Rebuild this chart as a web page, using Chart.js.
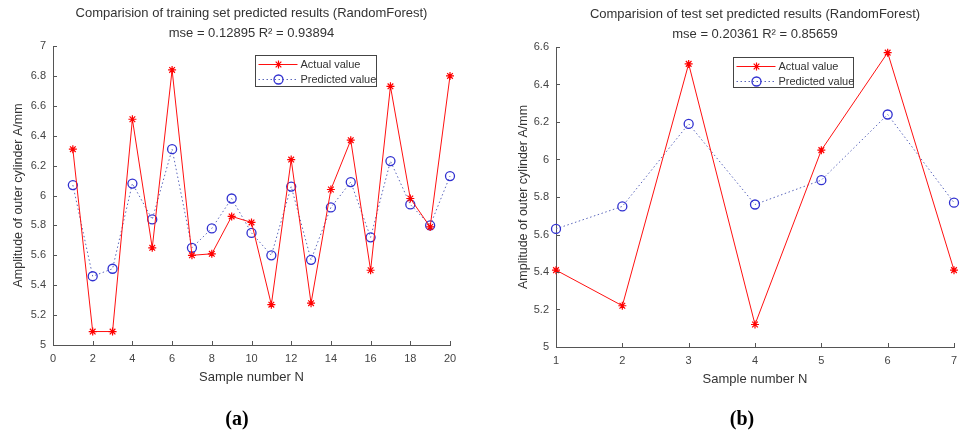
<!DOCTYPE html>
<html lang="en">

<head>
    <meta charset="UTF-8">
    <title>RandomForest prediction comparison</title>
    <script src="https://cdn.jsdelivr.net/npm/chart.js"></script>
    <style>
        body { margin: 0; background: #fff; width: 971px; height: 436px; position: relative; overflow: hidden; }
        canvas { position: absolute; top: 0; }
        .tag { position: absolute; font: bold 20px "Liberation Serif", "Times New Roman", serif; color: #000; transform: translate(-50%, -50%); }
    </style>
</head>

<body>
    <canvas id="trainChart" width="485" height="436" style="left:0"></canvas>
    <canvas id="testChart" width="486" height="436" style="left:485px"></canvas>
    <div class="tag" style="left:237px; top:418px">(a)</div>
    <div class="tag" style="left:742px; top:418px">(b)</div>

    <script>
        // training set (a)
        const trainSamples = [1, 2, 3, 4, 5, 6, 7, 8, 9, 10, 11, 12, 13, 14, 15, 16, 17, 18, 19, 20];
        const trainActual = [6.31, 5.09, 5.09, 6.51, 5.65, 6.84, 5.60, 5.61, 5.86, 5.82, 5.27, 6.24, 5.28, 6.04, 6.37, 5.50, 6.73, 5.98, 5.79, 6.80];
        const trainPredicted = [6.07, 5.46, 5.51, 6.08, 5.84, 6.31, 5.65, 5.78, 5.98, 5.75, 5.60, 6.06, 5.57, 5.92, 6.09, 5.72, 6.23, 5.94, 5.80, 6.13];

        // test set (b)
        const testSamples = [1, 2, 3, 4, 5, 6, 7];
        const testActual = [5.41, 5.22, 6.51, 5.12, 6.05, 6.57, 5.41];
        const testPredicted = [5.63, 5.75, 6.19, 5.76, 5.89, 6.24, 5.77];

        const trainTitle = ['Comparision of training set predicted results (RandomForest)', 'mse = 0.12895 R\u00B2 = 0.93894'];
        const testTitle = ['Comparision of test set predicted results (RandomForest)', 'mse = 0.20361 R\u00B2 = 0.85659'];
        const seriesNames = ['Actual value', 'Predicted value'];

        const FONT = '"Liberation Sans", Arial, sans-serif';
        const TEXT = '#333';
        const AXIS = '#555';

        const toPoints = (xs, ys) => xs.map((x, i) => ({ x: x, y: ys[i] }));

        // matlab style ticks pointing into the plot + legend box inside the axes
        const matlabBits = {
            id: 'matlabBits',
            afterDraw(chart, args, opts) {
                const ctx = chart.ctx;
                const area = chart.chartArea;
                const xs = chart.scales.x, ys = chart.scales.y;
                ctx.save();
                ctx.strokeStyle = AXIS;
                ctx.lineWidth = 1;
                ctx.beginPath();
                xs.ticks.forEach(t => {
                    const px = Math.round(xs.getPixelForValue(t.value)) + 0.5;
                    ctx.moveTo(px, area.bottom);
                    ctx.lineTo(px, area.bottom - 4);
                });
                ys.ticks.forEach(t => {
                    const py = Math.round(ys.getPixelForValue(t.value)) + 0.5;
                    ctx.moveTo(area.left, py);
                    ctx.lineTo(area.left + 4, py);
                });
                ctx.stroke();

                // legend
                const bx = Math.round(area.left + opts.x) + 0.5;
                const by = Math.round(area.top + opts.y) + 0.5;
                ctx.fillStyle = '#fff';
                ctx.fillRect(bx, by, opts.w, opts.h);
                ctx.strokeStyle = '#444';
                ctx.strokeRect(bx, by, opts.w, opts.h);
                ctx.font = '11px ' + FONT;
                ctx.textBaseline = 'middle';
                chart.data.datasets.forEach((ds, i) => {
                    const ly = by + 9 + i * 15;
                    ctx.strokeStyle = ds.borderColor;
                    ctx.lineWidth = ds.borderWidth;
                    ctx.setLineDash(ds.borderDash || []);
                    ctx.beginPath();
                    ctx.moveTo(bx + 3, ly);
                    ctx.lineTo(bx + 42, ly);
                    ctx.stroke();
                    ctx.setLineDash([]);
                    ctx.strokeStyle = ds.pointBorderColor;
                    ctx.fillStyle = ds.pointBackgroundColor || 'rgba(0,0,0,0)';
                    ctx.lineWidth = ds.pointBorderWidth;
                    Chart.helpers.drawPoint(ctx, {
                        pointStyle: ds.pointStyle, radius: ds.pointRadius, rotation: 0,
                        borderWidth: ds.pointBorderWidth
                    }, bx + 23, ly);
                    ctx.fillStyle = TEXT;
                    ctx.fillText(ds.label, bx + 45, ly);
                });
                ctx.restore();
            }
        };

        function makeChart(id, xs, actual, predicted, cfg) {
            const datasets = [{
                label: seriesNames[0],
                data: toPoints(xs, actual),
                borderColor: '#ff1010',
                borderWidth: 1,
                pointStyle: 'star',
                pointRadius: 4,
                pointBorderColor: '#ff0000',
                pointBackgroundColor: '#ff0000',
                pointBorderWidth: 1.2,
                clip: false
            }, {
                label: seriesNames[1],
                data: toPoints(xs, predicted),
                borderColor: '#5a66bb',
                borderWidth: 1,
                borderDash: [1.5, 2.5],
                pointStyle: 'circle',
                pointRadius: 4.5,
                pointBackgroundColor: 'rgba(0,0,0,0)',
                pointBorderColor: '#3030d0',
                pointBorderWidth: 1.3,
                clip: false
            }];

            return new Chart(document.getElementById(id), {
                type: 'line',
                data: { datasets: datasets },
                plugins: [matlabBits],
                options: {
                    responsive: false,
                    animation: false,
                    devicePixelRatio: 1,
                    layout: { padding: cfg.padding },
                    plugins: {
                        legend: { display: false },
                        tooltip: { enabled: false },
                        title: {
                            display: true,
                            text: cfg.title,
                            fullSize: false,
                            color: TEXT,
                            font: { family: FONT, size: 13, weight: 'normal', lineHeight: '20px' },
                            padding: cfg.titlePad
                        },
                        matlabBits: cfg.legend
                    },
                    scales: {
                        x: {
                            type: 'linear',
                            min: cfg.xMin, max: cfg.xMax,
                            grid: { display: false, drawTicks: false },
                            border: { display: true, color: AXIS, width: 1 },
                            ticks: { stepSize: cfg.xStep, color: '#444', padding: 7, maxRotation: 0, font: { family: FONT, size: 11 } },
                            title: { display: true, text: 'Sample number N', color: TEXT, font: { family: FONT, size: 13 }, padding: { top: 0, bottom: 10 } },
                            afterFit: s => { s.height = 50; }
                        },
                        y: {
                            min: 5, max: cfg.yMax,
                            grid: { display: false, drawTicks: false },
                            border: { display: true, color: AXIS, width: 1 },
                            ticks: {
                                stepSize: 0.2, color: '#444', padding: 7, font: { family: FONT, size: 11 },
                                callback: v => String(+v.toFixed(1))
                            },
                            title: { display: true, text: 'Amplitude of outer cylinder A/mm', color: TEXT, font: { family: FONT, size: 12.5 }, padding: { top: cfg.yTitlePad, bottom: 0 } },
                            afterFit: s => { s.width = cfg.yWidth; }
                        }
                    }
                }
            });
        }

        makeChart('trainChart', trainSamples, trainActual, trainPredicted, {
            title: trainTitle,
            padding: { left: 0, right: 35, top: 0, bottom: 41 },
            titlePad: { top: 3, bottom: 3 },
            xMin: 0, xMax: 20, xStep: 2, yMax: 7,
            yWidth: 53, yTitlePad: 11,
            legend: { x: 202, y: 9, w: 121, h: 31 }
        });

        makeChart('testChart', testSamples, testActual, testPredicted, {
            title: testTitle,
            padding: { left: 0, right: 17, top: 0, bottom: 39 },
            titlePad: { top: 4, bottom: 3 },
            xMin: 1, xMax: 7, xStep: 1, yMax: 6.6,
            yWidth: 71, yTitlePad: 31,
            legend: { x: 177, y: 10, w: 120, h: 30 }
        });
    </script>
</body>

</html>
